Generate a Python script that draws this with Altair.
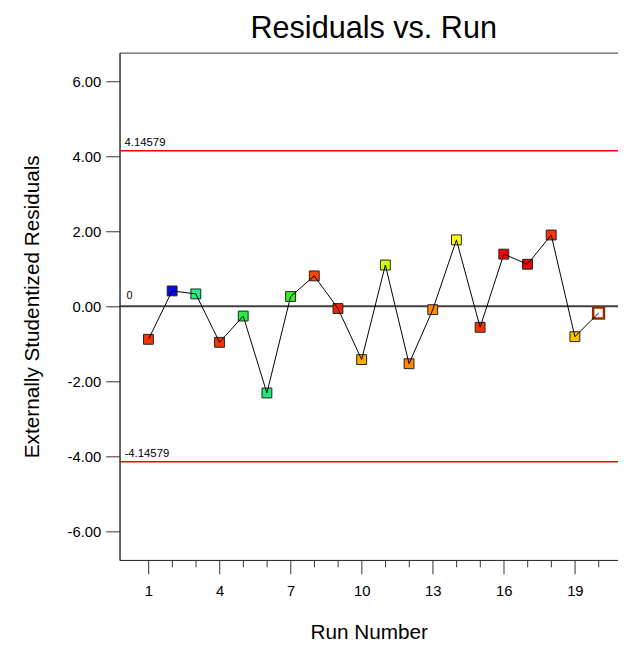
import altair as alt
import pandas as pd

runs = list(range(1, 21))
residuals = [-0.88, 0.41, 0.33, -0.96, -0.26, -2.31, 0.26, 0.81, -0.06, -1.42,
             1.10, -1.53, -0.09, 1.77, -0.56, 1.39, 1.12, 1.90, -0.81, -0.18]
point_colors = ["#FF3300", "#0A0AF0", "#20F080", "#FF3300", "#22F044",
                "#20E878", "#33F020", "#FF4400", "#EE2200", "#FFAA00",
                "#CCFF00", "#FF8800", "#FF8800", "#FFFF00", "#FF3300",
                "#FF0000", "#EE0000", "#FF3300", "#FFC000", "#FFFFFF"]
limit_values = [4.14579, -4.14579]
limit_labels = ["4.14579", "-4.14579"]
zero_value = [0]
zero_label = ["0"]
y_ticks = [-6, -4, -2, 0, 2, 4, 6]
x_ticks = list(range(1, 21))

FONT = "Liberation Sans"

df = pd.DataFrame({"run": runs, "residual": residuals, "color": point_colors})
lim_df = pd.DataFrame({"value": limit_values, "label": limit_labels})
zero_df = pd.DataFrame({"value": zero_value, "label": zero_label})

x_scale = alt.Scale(domain=[-0.22, 20.82], nice=False, zero=False)
y_scale = alt.Scale(domain=[-6.76, 6.76], nice=False, zero=False)

x_enc = alt.X(
    "run:Q", scale=x_scale,
    axis=alt.Axis(
        title="Run Number", values=x_ticks, format="d",
        labelExpr="(datum.value - 1) % 3 == 0 ? datum.label : ''",
        tickSize={"condition": {"test": "(datum.value - 1) % 3 == 0", "value": 14}, "value": 7},
        grid=False, labelFontSize=15, labelFont=FONT, labelColor="black",
        labelPadding=10, titleFontSize=21, titleFont=FONT, titleFontWeight="normal",
        titleColor="black", titlePadding=24, domainColor="#333", tickColor="#333",
        labelFlush=False,
    ),
)
y_enc = alt.Y(
    "residual:Q", scale=y_scale,
    axis=alt.Axis(
        title="Externally Studentized Residuals", values=y_ticks, format=".2f",
        labelExpr="datum.value < 0 ? '-' + format(-datum.value, '.2f') : format(datum.value, '.2f')",
        tickSize=14, grid=False, labelFontSize=15, labelFont=FONT,
        labelColor="black", labelPadding=5, titleFontSize=21, titleFont=FONT,
        titleFontWeight="normal", titleColor="black", titlePadding=25,
        domainColor="#333", tickColor="#333",
    ),
)

zero_rule = alt.Chart(zero_df).mark_rule(color="#404040", strokeWidth=2).encode(
    y=alt.Y("value:Q", scale=y_scale)
)
zero_text = alt.Chart(zero_df).mark_text(
    align="left", baseline="alphabetic", fontSize=11, font=FONT, color="black", dy=-7
).encode(x=alt.value(7), y=alt.Y("value:Q", scale=y_scale), text="label:N")

lim_rule = alt.Chart(lim_df).mark_rule(color="#FF0000", strokeWidth=1.5).encode(
    y=alt.Y("value:Q", scale=y_scale)
)
lim_text = alt.Chart(lim_df).mark_text(
    align="left", baseline="alphabetic", fontSize=11.5, font=FONT, color="black", dy=-5
).encode(x=alt.value(5), y=alt.Y("value:Q", scale=y_scale), text="label:N")

base = alt.Chart(df)
points = base.transform_filter("datum.run < 20").mark_point(
    shape="square", filled=True, size=100, stroke="#222222", strokeWidth=1, opacity=1
).encode(x=x_enc, y=y_enc, fill=alt.Fill("color:N", scale=None))

last_point = base.transform_filter("datum.run == 20").mark_point(
    shape="square", filled=True, size=120, stroke="#9A2A00", strokeWidth=2.5, opacity=1
).encode(x=x_enc, y=y_enc, fill=alt.Fill("color:N", scale=None))

line = base.mark_line(color="black", strokeWidth=1).encode(x=x_enc, y=y_enc)

chart = alt.layer(
    zero_rule, lim_rule, lim_text, zero_text, points, last_point, line
).properties(
    width=505,
    height=514,
    padding={"left": 113, "top": 41, "right": 0, "bottom": 86},
    autosize=alt.AutoSizeParams(type="none"),
    title=alt.TitleParams(
        "Residuals vs. Run", fontSize=31, font=FONT, fontWeight="normal",
        color="black", offset=8, anchor="middle", dx=5,
    ),
).configure_view(stroke="#333333", strokeWidth=1)

chart.save("out.html", embed_options={"renderer": "svg", "actions": False})
